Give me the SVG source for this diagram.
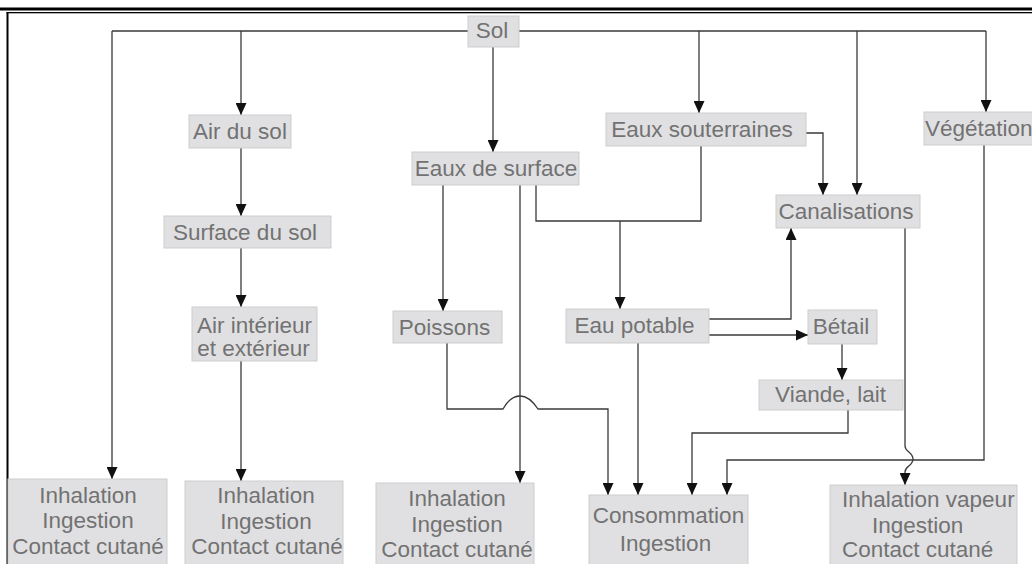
<svg xmlns="http://www.w3.org/2000/svg" width="1032" height="564" viewBox="0 0 1032 564">
<style>
.box{fill:#e0e0e2;stroke:#cdcdcd;stroke-width:1}
.t{font-family:"Liberation Sans",Arial,sans-serif;font-size:22.5px;fill:#727272;text-anchor:middle}
.c{fill:none;stroke:#3a3a3a;stroke-width:1.3}
.a{marker-end:url(#arr)}
</style>
<defs>
<marker id="arr" markerUnits="userSpaceOnUse" markerWidth="12" markerHeight="11" refX="12" refY="5.5" orient="auto">
<path d="M0,0 L12,5.5 L0,11 z" fill="#111"/>
</marker>
</defs>
<rect width="1032" height="564" fill="#fff"/>
<g id="frame">
<rect x="0" y="7.5" width="1032" height="3" fill="#000"/>
<rect x="6.5" y="12" width="1025.5" height="1.3" fill="#000"/>
<rect x="6.5" y="12" width="2" height="552" fill="#000"/>
</g>
<g id="connectors">
<path class="c" d="M112,31 H468 M519,31 H986"/>
<path class="c a" d="M112,31 V479"/>
<path class="c a" d="M241,31 V115"/>
<path class="c a" d="M493,47 V152"/>
<path class="c a" d="M699,31 V113"/>
<path class="c a" d="M857,31 V195"/>
<path class="c a" d="M986,31 V112"/>
<path class="c a" d="M241,148 V216"/>
<path class="c a" d="M241,248 V307"/>
<path class="c a" d="M241,361 V481"/>
<path class="c a" d="M443,185 V311"/>
<path class="c a" d="M520,185 V483"/>
<path class="c" d="M536,185 V221 H701 V146"/>
<path class="c a" d="M620,221 V309"/>
<path class="c a" d="M806,133 H823 V195"/>
<path class="c a" d="M709,319 H791 V228"/>
<path class="c a" d="M709,335 H808"/>
<path class="c a" d="M842,344 V380"/>
<path class="c a" d="M447,343 V409 H503 C508,400 513,396 520,396 C527,396 532,400 538,409 H608 V495"/>
<path class="c a" d="M638,343 V495"/>
<path class="c a" d="M848,410 V433 H692 V495"/>
<path class="c a" d="M984,145 V460 H727 V495"/>
<path class="c a" d="M905,228 V446 C905,452 913,452 913,459 C913,466 905,466 905,472 V485"/>
</g>
<g id="sol"><rect class="box" x="468" y="16" width="51" height="31"/><text class="t" x="492" y="38">Sol</text></g>
<g id="air-du-sol"><rect class="box" x="189" y="115" width="102" height="33"/><text class="t" x="240" y="139">Air du sol</text></g>
<g id="eaux-surface"><rect class="box" x="412" y="152" width="167" height="33"/><text class="t" x="496" y="176">Eaux de surface</text></g>
<g id="eaux-souterraines"><rect class="box" x="606" y="113" width="200" height="33"/><text class="t" x="702" y="137">Eaux souterraines</text></g>
<g id="vegetation"><rect class="box" x="924" y="112" width="120" height="33"/><text class="t" x="925" y="136" style="text-anchor:start">Végétation</text></g>
<g id="canalisations"><rect class="box" x="776" y="195" width="144" height="33"/><text class="t" x="846" y="219">Canalisations</text></g>
<g id="surface-sol"><rect class="box" x="164" y="216" width="167" height="32"/><text class="t" x="245" y="240">Surface du sol</text></g>
<g id="air-interieur"><rect class="box" x="192" y="307" width="125" height="54"/><text class="t" x="254.5" y="333">Air intérieur</text><text class="t" x="253.5" y="356">et extérieur</text></g>
<g id="poissons"><rect class="box" x="393" y="311" width="109" height="32"/><text class="t" x="444.5" y="335">Poissons</text></g>
<g id="eau-potable"><rect class="box" x="566" y="309" width="143" height="34"/><text class="t" x="634.5" y="333">Eau potable</text></g>
<g id="betail"><rect class="box" x="808" y="310" width="69" height="34"/><text class="t" x="841" y="334">Bétail</text></g>
<g id="viande-lait"><rect class="box" x="759" y="380" width="144" height="30"/><text class="t" x="830.5" y="402">Viande, lait</text></g>
<g id="consommation"><rect class="box" x="589" y="495" width="159" height="75"/><text class="t" x="668.5" y="523">Consommation</text><text class="t" x="665.5" y="551">Ingestion</text></g>
<g id="inhalation-vapeur"><rect class="box" x="830" y="485" width="187" height="85"/><text class="t" x="842" y="507" style="text-anchor:start">Inhalation vapeur</text><text class="t" x="872" y="533" style="text-anchor:start">Ingestion</text><text class="t" x="842" y="557" style="text-anchor:start">Contact cutané</text></g>
<g id="inhalation-1"><rect class="box" x="8" y="479" width="159" height="91"/><text class="t" x="88" y="503">Inhalation</text><text class="t" x="88" y="528">Ingestion</text><text class="t" x="88" y="554">Contact cutané</text></g>
<g id="inhalation-2"><rect class="box" x="185" y="481" width="158" height="89"/><text class="t" x="266" y="503">Inhalation</text><text class="t" x="266" y="529">Ingestion</text><text class="t" x="267" y="554">Contact cutané</text></g>
<g id="inhalation-3"><rect class="box" x="376" y="483" width="158" height="87"/><text class="t" x="457" y="506">Inhalation</text><text class="t" x="457" y="532">Ingestion</text><text class="t" x="457" y="557">Contact cutané</text></g>
</svg>
